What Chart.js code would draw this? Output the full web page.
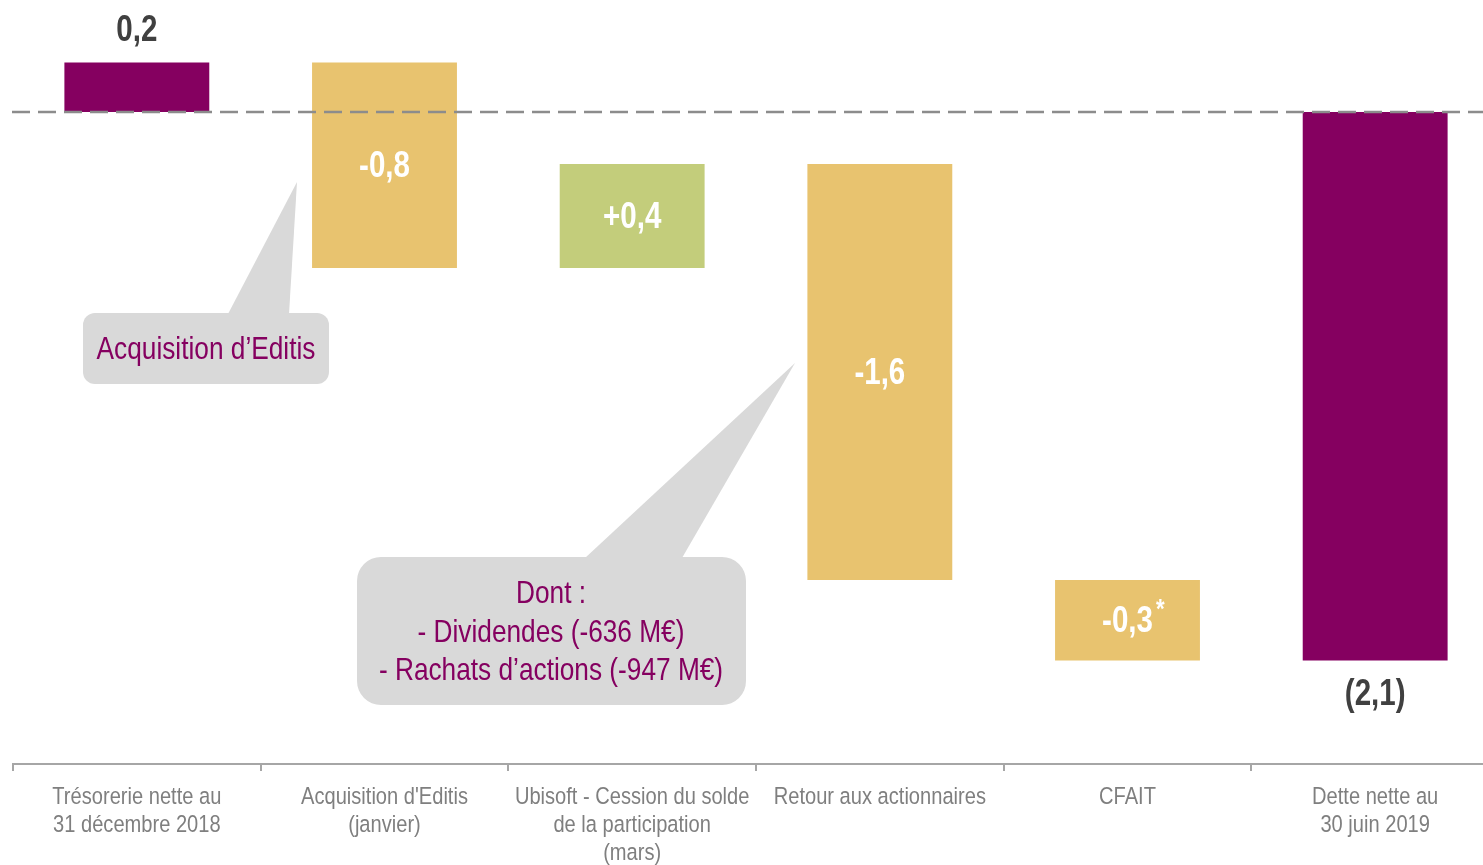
<!DOCTYPE html>
<html><head><meta charset="utf-8">
<script src="https://cdn.jsdelivr.net/npm/chart.js@4"></script>
<style>html,body{margin:0;padding:0;overflow:hidden;background:#fff}
#wrap{position:relative;width:1500px;height:865px}</style></head>
<body><div id="wrap"><canvas id="c" width="1500" height="865"></canvas></div>
<script>
const categories = [
  ["Trésorerie nette au","31 décembre 2018"],
  ["Acquisition d'Editis","(janvier)"],
  ["Ubisoft - Cession du solde","de la participation","(mars)"],
  ["Retour aux actionnaires"],
  ["CFAIT"],
  ["Dette nette au","30 juin 2019"]
];
const openingCash = 0.19;
const movements = [-0.79, 0.4, -1.6, -0.31];
const closingDebt = -2.11;
const valueLabels = ["0,2","-0,8","+0,4","-1,6","-0,3","(2,1)"];
const labelNotes = ["","","","","*",""];
const barColors = ["#850060","#e8c36f","#c3cd7b","#e8c36f","#e8c36f","#850060"];

const FONT = '"Liberation Sans",Arial,sans-serif';
const NARROW = 0.82;

// build floating bars
const bars = [[0, openingCash]];
let level = openingCash;
movements.forEach(m => { const next = level + m; bars.push([Math.min(level,next), Math.max(level,next)]); level = next; });
bars.push([closingDebt, 0]);

function narrowText(ctx, text, x, y, font, color, align){
  ctx.save();
  ctx.font = font; ctx.fillStyle = color; ctx.textAlign = align || 'center'; ctx.textBaseline = 'middle';
  ctx.translate(x, y); ctx.scale(NARROW, 1);
  ctx.fillText(text, 0, 0);
  const w = ctx.measureText(text).width * NARROW;
  ctx.restore();
  return w;
}

const overlay = {
  id:'overlay',
  afterDatasetsDraw(chart){
    const ctx = chart.ctx, xs = chart.scales.x, ys = chart.scales.y;
    const meta = chart.getDatasetMeta(0);
    ctx.save();
    // zero dashed line
    const y0 = ys.getPixelForValue(0);
    ctx.strokeStyle = '#8c8c8c'; ctx.lineWidth = 2.5; ctx.setLineDash([18,8]);
    ctx.beginPath(); ctx.moveTo(12, y0); ctx.lineTo(1500, y0); ctx.stroke();
    ctx.setLineDash([]);
    // value labels
    meta.data.forEach((el, i) => {
      const top = Math.min(el.y, el.base), bot = Math.max(el.y, el.base);
      const first = i === 0, last = i === meta.data.length - 1;
      let y, color;
      if (first) { y = top - 32; color = '#404040'; }
      else if (last) { y = bot + 34; color = '#404040'; }
      else { y = (top + bot) / 2 + 2; color = '#ffffff'; }
      const w = narrowText(ctx, valueLabels[i], el.x, y, 'bold 36px ' + FONT, color);
      if (labelNotes[i]) narrowText(ctx, labelNotes[i], el.x + w/2 + 3, y - 12, 'bold 27px ' + FONT, color, 'left');
    });
    // category labels
    categories.forEach((lines, i) => {
      const x = xs.getPixelForValue(i);
      lines.forEach((t, k) => narrowText(ctx, t, x, 797 + k * 28, '24.5px ' + FONT, '#7f7f7f'));
    });
    // callouts
    ctx.fillStyle = '#d9d9d9';
    function callout(bx, by, bw, bh, r, p1, p2, tip){
      ctx.beginPath(); ctx.roundRect(bx, by, bw, bh, r); ctx.fill();
      ctx.beginPath(); ctx.moveTo(p1, by + 1); ctx.lineTo(tip[0], tip[1]); ctx.lineTo(p2, by + 1); ctx.closePath(); ctx.fill();
    }
    callout(83, 313, 246, 71, 12, 228, 289, [297, 182]);
    callout(357, 557, 389, 148, 24, 585, 682, [795, 363]);
    const f = '32px ' + FONT, c = '#850060';
    narrowText(ctx, "Acquisition d’Editis", 206, 350, f, c);
    narrowText(ctx, "Dont :", 551, 594, f, c);
    narrowText(ctx, "- Dividendes (-636 M€)", 551, 633, f, c);
    narrowText(ctx, "- Rachats d’actions (-947 M€)", 551, 671, f, c);
    ctx.restore();
  }
};

new Chart(document.getElementById('c'), {
  type:'bar',
  data:{ labels: categories, datasets:[{ data: bars, backgroundColor: barColors, borderWidth:0, barPercentage:0.585, categoryPercentage:1 }]},
  options:{
    responsive:false, devicePixelRatio:1, animation:false,
    layout:{ padding:{ left:13, right:1, top:0, bottom:0 } },
    plugins:{ legend:{display:false}, tooltip:{enabled:false} },
    scales:{
      x:{
        grid:{ display:true, drawOnChartArea:false, drawTicks:true, tickLength:7, color:'#a6a6a6', lineWidth:2, offset:true },
        border:{ display:true, color:'#a6a6a6', width:2 },
        ticks:{ color:'rgba(0,0,0,0)', font:{ family:FONT, size:24, lineHeight:28/24 }, padding:5, maxRotation:0, autoSkip:false }
      },
      y:{ display:false, min:-2.5077, max:0.4308 }
    }
  },
  plugins:[overlay]
});
</script></body></html>
